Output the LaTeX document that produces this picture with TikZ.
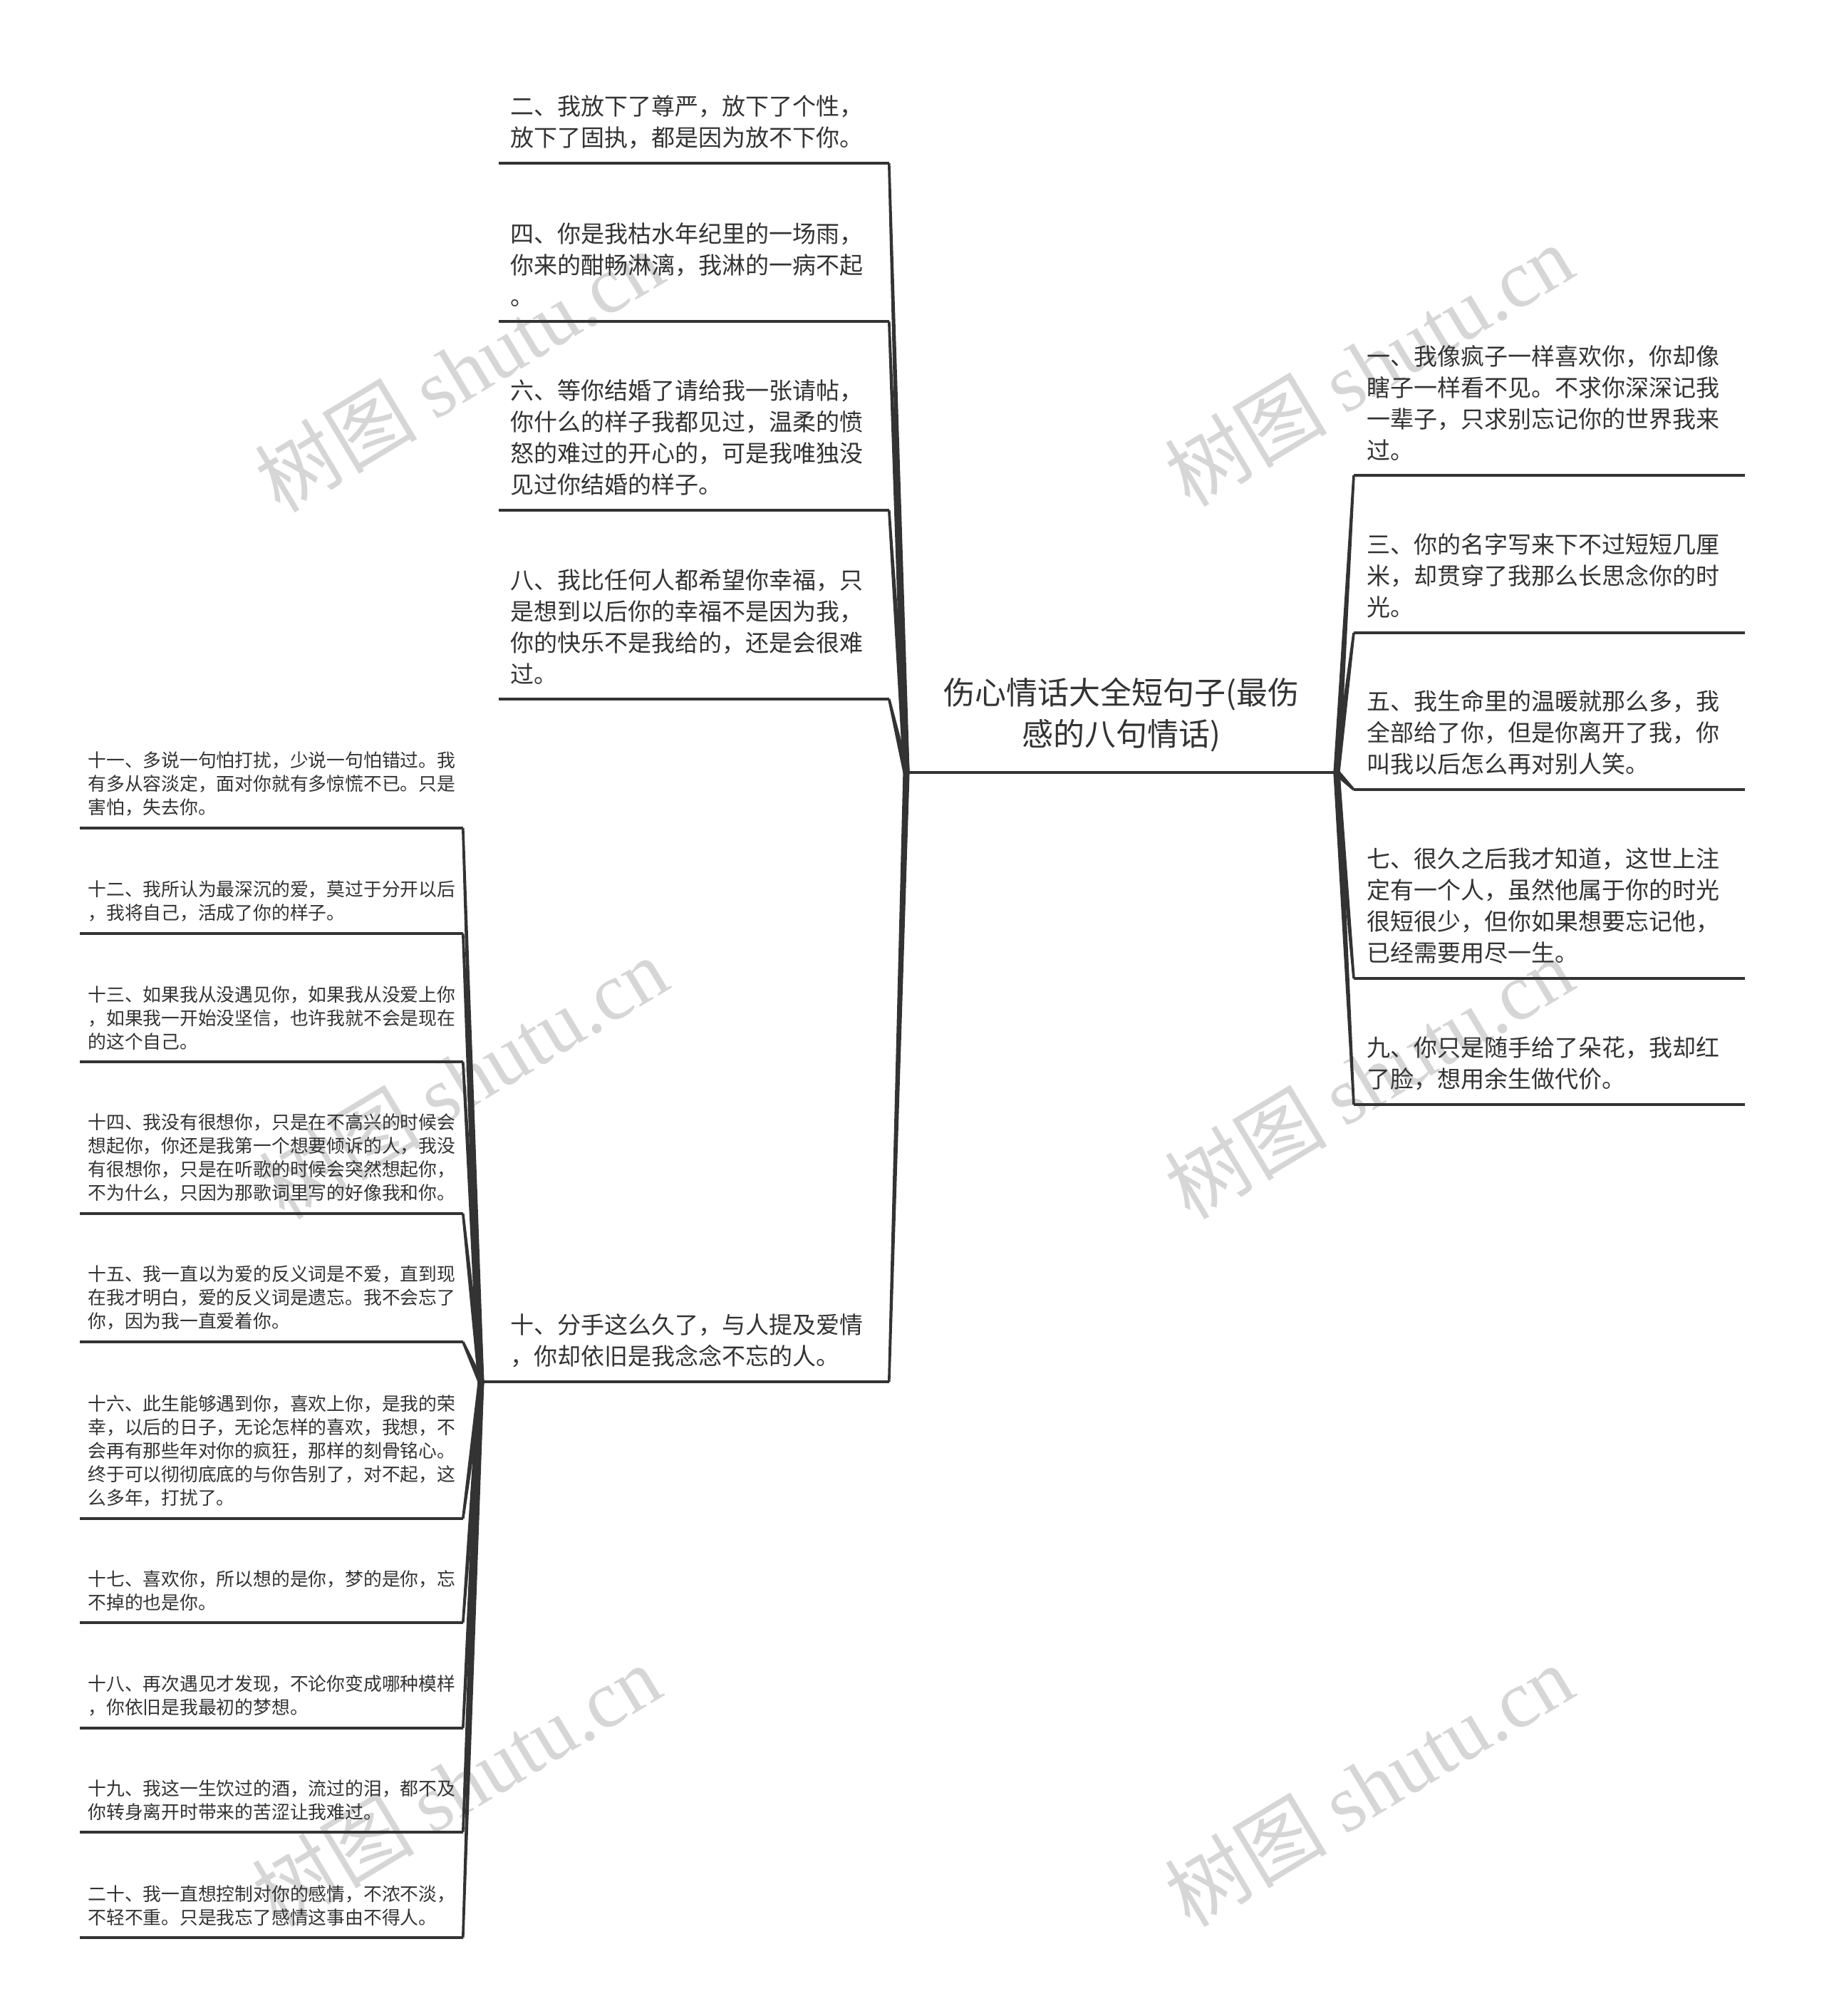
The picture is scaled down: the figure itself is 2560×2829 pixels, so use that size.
\documentclass[tikz,border=0pt]{standalone}
\usepackage{fontspec}
\newfontfamily\cjk{Noto Sans CJK SC}
\newfontfamily\wmlatin{Liberation Serif}
\usetikzlibrary{calc}
\definecolor{ink}{HTML}{333333}
\definecolor{wm}{HTML}{D6D6D6}
\newcommand\brconn[4]{\fill[ink] ($(#1)!#3!90:(#2)$) -- ($(#2)!#4!-90:(#1)$) -- ($(#2)!#4!90:(#1)$) -- ($(#1)!#3!-90:(#2)$) -- cycle;}
\begin{document}
\begin{tikzpicture}[x=0.5pt,y=-0.5pt,
  mainleaf/.style={anchor=south west, inner xsep=8pt, inner ysep=10pt, text width=257.5pt, align=left, text=ink, font={\cjk\fontsize{16.5pt}{22pt}\selectfont}},
  rightleaf/.style={mainleaf, inner xsep=9pt, text width=256pt},
  subleaf/.style={anchor=south west, inner xsep=5.5pt, inner ysep=8pt, text width=257.5pt, align=left, text=ink, font={\cjk\fontsize{12.9pt}{16.5pt}\selectfont}},
  rootnode/.style={anchor=south, inner ysep=14pt, align=center, text=ink, font={\cjk\fontsize{22pt}{29pt}\selectfont}},
  uline/.style={draw=ink, line width=1.8pt},
  wmark/.style={rotate=31, text=wm, font={\fontsize{57pt}{57pt}\selectfont}}]
\useasboundingbox (0,0) rectangle (2560,2829);
\fill[white] (0,0) rectangle (2560,2829);

% watermarks
\node[wmark] (w1) at (644,520) {\cjk 树图 \wmlatin shutu.cn};
\node[wmark] (w2) at (1921,512) {\cjk 树图 \wmlatin shutu.cn};
\node[wmark] (w3) at (650,1512) {\cjk 树图 \wmlatin shutu.cn};
\node[wmark] (w4) at (1921,1512) {\cjk 树图 \wmlatin shutu.cn};
\node[wmark] (w5) at (640,2505) {\cjk 树图 \wmlatin shutu.cn};
\node[wmark] (w6) at (1921,2505) {\cjk 树图 \wmlatin shutu.cn};

% root
\coordinate (jl) at (1272,1084);
\coordinate (jr) at (1876,1084);
\node[rootnode] (root) at (1574,1084) {伤心情话大全短句子(最伤\\感的八句情话)};
\draw[draw=ink, line width=2pt] (jl) -- (jr);

% left main leaves
\node[mainleaf] (n2) at (700,229) {二、我放下了尊严，放下了个性，\\放下了固执，都是因为放不下你。};
\node[mainleaf] (n4) at (700,451) {四、你是我枯水年纪里的一场雨，\\你来的酣畅淋漓，我淋的一病不起\\。};
\node[mainleaf] (n6) at (700,716) {六、等你结婚了请给我一张请帖，\\你什么的样子我都见过，温柔的愤\\怒的难过的开心的，可是我唯独没\\见过你结婚的样子。};
\node[mainleaf] (n8) at (700,981) {八、我比任何人都希望你幸福，只\\是想到以后你的幸福不是因为我，\\你的快乐不是我给的，还是会很难\\过。};
\node[mainleaf] (n10) at (700,1939) {十、分手这么久了，与人提及爱情\\，你却依旧是我念念不忘的人。};
\foreach \n in {n2,n4,n6,n8,n10} {
  \draw[uline] (\n.south west) -- (\n.south east);
  \brconn{jl}{\n.south east}{2.3pt}{0.9pt}
}

% right leaves
\node[rightleaf] (n1) at (1900,667) {一、我像疯子一样喜欢你，你却像\\瞎子一样看不见。不求你深深记我\\一辈子，只求别忘记你的世界我来\\过。};
\node[rightleaf] (n3) at (1900,888) {三、你的名字写来下不过短短几厘\\米，却贯穿了我那么长思念你的时\\光。};
\node[rightleaf] (n5) at (1900,1108) {五、我生命里的温暖就那么多，我\\全部给了你，但是你离开了我，你\\叫我以后怎么再对别人笑。};
\node[rightleaf] (n7) at (1900,1373) {七、很久之后我才知道，这世上注\\定有一个人，虽然他属于你的时光\\很短很少，但你如果想要忘记他，\\已经需要用尽一生。};
\node[rightleaf] (n9) at (1900,1550) {九、你只是随手给了朵花，我却红\\了脸，想用余生做代价。};
\foreach \n in {n1,n3,n5,n7,n9} {
  \draw[uline] (\n.south west) -- (\n.south east);
  \brconn{jr}{\n.south west}{2.3pt}{0.9pt}
}

% sub leaves of ten
\coordinate (j10) at (675,1939);
\draw[uline] (n10.south west) -- (j10);
\node[subleaf] (n11) at (112,1162) {十一、多说一句怕打扰，少说一句怕错过。我\\有多从容淡定，面对你就有多惊慌不已。只是\\害怕，失去你。};
\node[subleaf] (n12) at (112,1310) {十二、我所认为最深沉的爱，莫过于分开以后\\，我将自己，活成了你的样子。};
\node[subleaf] (n13) at (112,1490) {十三、如果我从没遇见你，如果我从没爱上你\\，如果我一开始没坚信，也许我就不会是现在\\的这个自己。};
\node[subleaf] (n14) at (112,1703) {十四、我没有很想你，只是在不高兴的时候会\\想起你，你还是我第一个想要倾诉的人，我没\\有很想你，只是在听歌的时候会突然想起你，\\不为什么，只因为那歌词里写的好像我和你。};
\node[subleaf] (n15) at (112,1883) {十五、我一直以为爱的反义词是不爱，直到现\\在我才明白，爱的反义词是遗忘。我不会忘了\\你，因为我一直爱着你。};
\node[subleaf] (n16) at (112,2131) {十六、此生能够遇到你，喜欢上你，是我的荣\\幸，以后的日子，无论怎样的喜欢，我想，不\\会再有那些年对你的疯狂，那样的刻骨铭心。\\终于可以彻彻底底的与你告别了，对不起，这\\么多年，打扰了。};
\node[subleaf] (n17) at (112,2277) {十七、喜欢你，所以想的是你，梦的是你，忘\\不掉的也是你。};
\node[subleaf] (n18) at (112,2425) {十八、再次遇见才发现，不论你变成哪种模样\\，你依旧是我最初的梦想。};
\node[subleaf] (n19) at (112,2571) {十九、我这一生饮过的酒，流过的泪，都不及\\你转身离开时带来的苦涩让我难过。};
\node[subleaf] (n20) at (112,2719) {二十、我一直想控制对你的感情，不浓不淡，\\不轻不重。只是我忘了感情这事由不得人。};
\foreach \n in {n11,n12,n13,n14,n15,n16,n17,n18,n19,n20} {
  \draw[uline] (\n.south west) -- (\n.south east);
  \brconn{j10}{\n.south east}{2.2pt}{0.9pt}
}
\end{tikzpicture}
\end{document}
